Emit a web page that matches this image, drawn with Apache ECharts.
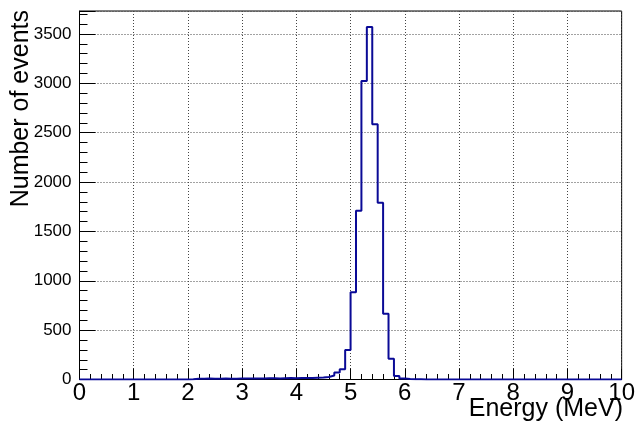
<!DOCTYPE html>
<html>
<head>
<meta charset="utf-8">
<script src="https://cdn.jsdelivr.net/npm/echarts@6/dist/echarts.min.js"></script>
<style>
html,body{margin:0;padding:0;background:#fff;}
#chart{width:638px;height:423px;}
</style>
</head>
<body>
<div id="chart"></div>
<script>
// Histogram: 100 bins of 0.1 MeV from 0 to 10 MeV
const xMin = 0;
const xMax = 10;
const binWidth = 0.1;
const counts = [
  0,0,0,0,0,0,0,0,0,0,
  0,0,0,0,0,0,0,0,0,0,
  3,8,7,9,8,8,9,7,8,9,
  10,9,11,10,12,12,11,13,14,13,
  15,14,16,18,20,25,40,70,105,300,
  885,1710,3025,3570,2585,1790,665,210,35,10,
  4,3,2,1,0,0,0,0,0,0,
  0,0,0,0,0,0,0,0,0,0,
  0,0,0,0,0,0,0,0,0,0,
  0,0,0,0,0,0,0,0,0,0
];
const xTickLabels = ['0','1','2','3','4','5','6','7','8','9','10'];
const yTickLabels = ['0','500','1000','1500','2000','2500','3000','3500'];
const xTitle = 'Energy (MeV)';
const yTitle = 'Number of events';

// step line points at bin left edges, plus final edge
const stepData = counts.map((c, i) => [Math.round((xMin + i * binWidth) * 10) / 10, c]);
stepData.push([xMax, counts[counts.length - 1]]);

const chart = echarts.init(document.getElementById('chart'), null, {renderer: 'canvas'});
const labelFont = 'Liberation Sans, Arial, Helvetica, sans-serif';
chart.setOption({
  animation: false,
  backgroundColor: '#fff',
  grid: {
    left: 79.5, right: 15.5, top: 11, bottom: 43.5,
    show: true, borderColor: '#000', borderWidth: 1, backgroundColor: 'transparent'
  },
  xAxis: {
    type: 'value', min: xMin, max: xMax, interval: 1,
    axisLine: {show: true, onZero: false, lineStyle: {color: '#000', width: 1}},
    axisTick: {show: true, inside: true, length: 11, lineStyle: {color: '#000'}},
    minorTick: {show: true, splitNumber: 5, length: 5.5, lineStyle: {color: '#000'}},
    splitLine: {show: true, lineStyle: {color: '#444', type: [1, 2], width: 1}},
    axisLabel: {
      color: '#000', fontSize: 24, fontFamily: labelFont, margin: 2,
      formatter: v => xTickLabels[Math.round(v)]
    }
  },
  yAxis: {
    type: 'value', min: 0, max: 3733, interval: 500,
    axisLine: {show: true, onZero: false, lineStyle: {color: '#000', width: 1}},
    axisTick: {show: true, inside: true, length: 16, lineStyle: {color: '#000'}},
    minorTick: {show: true, splitNumber: 5, length: 8, lineStyle: {color: '#000'}},
    splitLine: {show: true, lineStyle: {color: '#444', type: [1, 2], width: 1}},
    axisLabel: {
      color: '#000', fontSize: 17, fontFamily: labelFont, margin: 8,
      showMaxLabel: false,
      formatter: v => yTickLabels[Math.round(v / 500)] || ''
    }
  },
  graphic: [
    {
      type: 'text', x: 623, y: 409,
      style: {text: xTitle, fill: '#000', font: '25px ' + labelFont, align: 'right', verticalAlign: 'middle'}
    },
    {
      type: 'text', x: 21, y: 10, rotation: Math.PI / 2,
      style: {text: yTitle, fill: '#000', font: '25px ' + labelFont, align: 'right', verticalAlign: 'middle'}
    }
  ],
  series: [{
    type: 'line',
    step: 'end',
    data: stepData,
    symbol: 'none',
    clip: true,
    lineStyle: {color: '#0a0a96', width: 2},
    z: 5
  }]
});
</script>
</body>
</html>
